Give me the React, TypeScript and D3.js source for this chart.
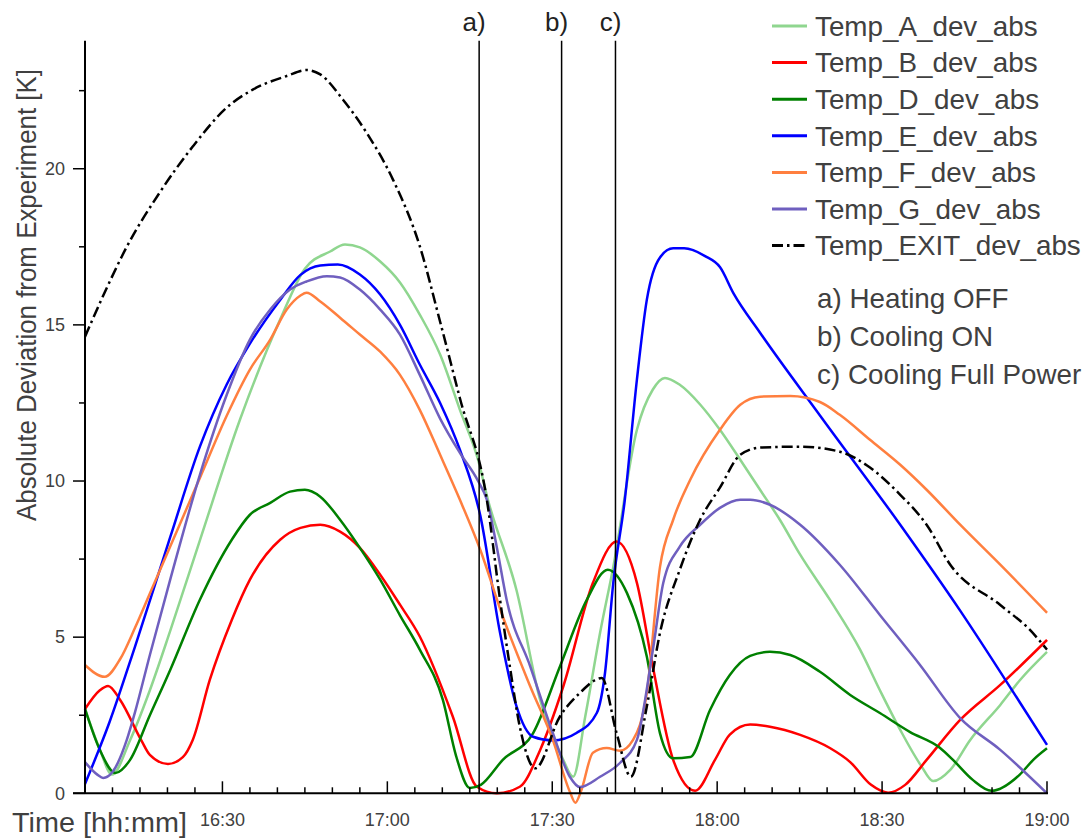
import React, { useEffect, useRef } from "react";
import * as d3 from "d3";

// time values are minutes after 16:00
const tempA = [
  [5, 2.7], [7.7, 1.4], [9.9, 0.6], [13.2, 1.7], [16.8, 3.3], [20.5, 5.2], [25.9, 8.1],
  [33.2, 11.97], [40.5, 15.17], [45, 16.8], [49.6, 17.35], [52.3, 17.57], [55, 17.48],
  [58.7, 17.03], [62.3, 16.36], [65.9, 15.33], [69.6, 14.05], [73.2, 12.28], [76.5, 10.68],
  [78.3, 9.4], [83.5, 6.5], [87.8, 2.99], [92, 1.07], [93.8, 0.53], [96, 2.46], [98.7, 5.14],
  [101.1, 7.25], [105.4, 11.64], [108.3, 12.93], [110.5, 13.3], [113.2, 13.08], [116.9, 12.45],
  [120.5, 11.64], [124.2, 10.68], [127.8, 9.72], [131.4, 8.76], [135.1, 7.64], [140.5, 6.2],
  [146, 4.6], [149.6, 3.3], [153.3, 2.03], [157, 0.91], [159.3, 0.39], [162.4, 0.75],
  [166, 1.7], [171.5, 2.83], [175.1, 3.63], [180, 4.53],
];
const tempB = [
  [5, 2.7], [7.7, 3.3], [9.2, 3.44], [11.4, 2.99], [15.2, 1.71], [16.8, 1.23], [20.1, 0.94],
  [22.8, 1.16], [24.6, 1.71], [27.7, 3.63], [31.7, 5.55], [35, 6.84], [40.5, 8.12], [44.2, 8.5],
  [47.8, 8.6], [51.4, 8.38], [55, 7.86], [58.7, 7.0], [62.3, 6.04], [65.9, 5.02], [71.9, 2.46],
  [76.3, 0.21], [79.9, 0], [84.1, 0.21], [87.8, 1.39], [92, 3.42], [97.4, 6.74], [101.7, 8.06],
  [105.4, 6.74], [108.3, 4.05], [112, 1.07], [116, 0.08], [119.6, 1.07], [122.3, 1.88],
  [126, 2.2], [129.6, 2.13], [135.1, 1.87], [140.5, 1.45], [144.2, 1.0], [148, 0.27],
  [151.1, 0.02], [154.2, 0.27], [158.1, 1.07], [164.2, 2.35], [171.5, 3.47], [180, 4.91],
];
const tempD = [
  [5, 2.7], [7.7, 1.39], [10.5, 0.65], [13.2, 1.07], [16.8, 2.5], [20.5, 3.95], [25.9, 6.2],
  [31.7, 8.12], [35, 8.92], [38.7, 9.3], [42.3, 9.66], [45, 9.72], [47.8, 9.5], [51.4, 8.76],
  [55, 7.86], [58.7, 6.84], [62.3, 5.7], [65.9, 4.6], [70.1, 2.99], [72.5, 1.2], [75, 0.17],
  [77, 0.27], [81, 1.07], [86.5, 1.92], [91.4, 4.06], [96.3, 6.2], [100.1, 7.16], [103.6, 6.41],
  [107.2, 4.38], [109.6, 1.92], [112, 1.12], [115.1, 1.16], [118.7, 2.67], [122.3, 3.79],
  [126, 4.4], [129.6, 4.53], [133.3, 4.43], [138.7, 3.89], [144.2, 3.15], [149.6, 2.57],
  [155.1, 1.96], [160.5, 1.46], [162.9, 1.07], [166.5, 0.43], [169.9, 0.08], [175, 0.59],
  [177.5, 1.07], [180, 1.44],
];
const tempE = [
  [5, 0.3], [9.5, 2.3], [14.1, 4.7], [20.5, 8.2], [25.9, 11.1], [30.8, 13.1], [35, 14.4],
  [40.5, 15.8], [44.2, 16.6], [47.8, 16.9], [51, 16.93], [55, 16.61], [58.7, 15.97],
  [62.3, 15.0], [65.9, 13.73], [69.6, 12.5], [73.2, 11.0], [76.9, 8.9], [80.5, 5.14],
  [83.5, 2.78], [86.5, 1.81], [90.1, 1.69], [94.4, 1.93], [98.1, 2.57], [99.6, 3.86],
  [101.1, 6.74], [103.2, 9.4], [105.4, 13.25], [107.2, 15.8], [109.6, 17.16], [112, 17.45],
  [114, 17.45], [117.8, 17.2], [120.5, 16.85], [123, 16.0], [127.8, 14.75], [138.7, 12.1],
  [153.3, 8.6], [164.2, 5.85], [175.1, 2.9], [180, 1.55],
];
const tempF = [
  [5, 4.11], [8.6, 3.73], [11.4, 4.3], [14.1, 5.3], [16.8, 6.4], [20.5, 7.9], [25.9, 10.1],
  [30.8, 12.1], [35, 13.57], [38.7, 14.53], [41.7, 15.49], [44.2, 15.94], [45.3, 16.03],
  [47.8, 15.75], [51.4, 15.23], [55, 14.69], [58.7, 14.14], [62.3, 13.4], [65.9, 12.28],
  [69.6, 10.84], [73.2, 9.4], [76.9, 7.8], [81, 5.66], [86, 3.42], [90.1, 1.71], [93.2, 0.05],
  [94.2, -0.3], [95.2, 0.05], [97.4, 1.3], [99.9, 1.45], [102.3, 1.36], [104.7, 1.71], [107.2, 3.21],
  [109.6, 7.25], [112, 8.76], [115.1, 10.04], [120.5, 11.64], [124.2, 12.44], [127.8, 12.7],
  [133.3, 12.72], [138.7, 12.53], [142.3, 12.12], [147.8, 11.32], [153.3, 10.52], [158.1, 9.72],
  [164.2, 8.6], [171.5, 7.32], [180, 5.78],
];
const tempG = [
  [5, 1.0], [7.3, 0.59], [8.3, 0.49], [10, 0.68], [12.6, 1.71], [14.1, 2.6], [16.8, 4.43],
  [20.5, 6.84], [25.9, 10.2], [30.8, 12.77], [35, 14.53], [38.7, 15.49], [42.3, 16.13],
  [45.3, 16.39], [49, 16.56], [51.4, 16.52], [55, 16.13], [58.7, 15.49], [62.3, 14.69],
  [65.9, 13.4], [69.6, 12.0], [73.2, 10.9], [76.5, 10.0], [78.1, 9.4], [80, 7.8], [81.7, 6.2],
  [86, 4.06], [90.1, 1.93], [93.2, 0.53], [95, 0.2], [98.7, 0.53], [102.3, 0.97], [105.4, 1.71],
  [108.3, 4.59], [110.2, 6.74], [113.2, 7.9], [116.9, 8.6], [120.5, 9.14], [124.2, 9.4],
  [126, 9.4], [129.6, 9.24], [135.1, 8.6], [142.3, 7.32], [149.6, 5.71], [156.9, 4.11],
  [164.2, 2.41], [171.5, 1.39], [180, 0],
];
const tempExit = [
  [5, 14.62], [9, 16.2], [12.6, 17.5], [18.6, 19.24], [24.6, 20.71], [30.8, 21.96], [35.6, 22.54],
  [41.7, 22.97], [45.3, 23.16], [47.8, 23.02], [51.9, 22.22], [56.2, 21.16], [61, 19.66],
  [65.9, 17.52], [69.6, 15.1], [73.2, 12.65], [78.1, 9.4], [80.5, 6.2], [82.3, 4.05],
  [84.1, 2.13], [86.9, 0.8], [91.4, 2.46], [95, 3.21], [99, 3.69], [101.7, 1.93], [104.3, 0.53],
  [107.2, 2.78], [109.6, 5.14], [113.2, 7.16], [116.9, 8.76], [120.5, 9.79], [124.2, 10.84],
  [127.8, 11.07], [135.1, 11.1], [142.3, 10.94], [147.8, 10.43], [153.3, 9.56], [158.1, 8.6],
  [162.4, 7.32], [171.5, 6.03], [176.9, 5.23], [180, 4.6],
];

const seriesNames = [
  "Temp_A_dev_abs", "Temp_B_dev_abs", "Temp_D_dev_abs", "Temp_E_dev_abs",
  "Temp_F_dev_abs", "Temp_G_dev_abs", "Temp_EXIT_dev_abs",
];
const seriesData = [tempA, tempB, tempD, tempE, tempF, tempG, tempExit];
const seriesColors = ["#8fd68f", "#ff0000", "#008000", "#0000ff", "#ff7f3f", "#6f5fbf", "#000000"];

const eventTimes = [76.7, 91.7, 101.5];
const eventLabels = ["a)", "b)", "c)"];
const eventNotes = ["a) Heating OFF", "b) Cooling ON", "c) Cooling Full Power"];

const xTickLabels = ["16:30", "17:00", "17:30", "18:00", "18:30", "19:00"];
const yMajorTicks = [0, 5, 10, 15, 20];
const yMinorTicks = [2.5, 7.5, 12.5, 17.5, 22.5];

const toMinutes = (s) => {
  const [h, m] = s.split(":").map(Number);
  return (h - 16) * 60 + m;
};

const App = () => {
  const ref = useRef(null);

  useEffect(() => {
    const svg = d3.select(ref.current);
    svg.selectAll("*").remove();

    const x = d3.scaleLinear().domain([5, 180]).range([85, 1047]);
    const y = d3.scaleLinear().domain([0, 24.1]).range([793.3, 40.7]);
    const font = "'Liberation Sans', Arial, sans-serif";
    const textCol = "#404040";

    // series
    const line = d3
      .line()
      .x((d) => x(d[0]))
      .y((d) => y(d[1]))
      .curve(d3.curveMonotoneX);

    seriesData.forEach((data, i) => {
      const p = svg
        .append("path")
        .attr("d", line(data))
        .attr("fill", "none")
        .attr("stroke", seriesColors[i])
        .attr("stroke-width", 2.5)
        .attr("stroke-linejoin", "round");
      if (i === 6) p.attr("stroke-dasharray", "11,4,2.5,4");
    });

    // event lines
    eventTimes.forEach((t, i) => {
      svg
        .append("line")
        .attr("x1", x(t))
        .attr("x2", x(t))
        .attr("y1", y(24.1))
        .attr("y2", y(0))
        .attr("stroke", "#000")
        .attr("stroke-width", 1.5);
      svg
        .append("text")
        .attr("x", x(t) - 5)
        .attr("y", 31)
        .attr("text-anchor", "middle")
        .style("font-family", font)
        .style("font-size", "26px")
        .style("fill", "#222")
        .text(eventLabels[i]);
    });

    // axes
    const axisG = svg.append("g").attr("stroke", "#000");
    axisG
      .append("line")
      .attr("x1", x(5))
      .attr("x2", x(5))
      .attr("y1", y(24.1))
      .attr("y2", y(0))
      .attr("stroke-width", 2);
    axisG
      .append("line")
      .attr("x1", x(5) - 12)
      .attr("x2", x(180) + 1)
      .attr("y1", y(0))
      .attr("y2", y(0))
      .attr("stroke-width", 2);

    d3.range(10, 181, 5).forEach((m) => {
      const major = m % 30 === 0;
      axisG
        .append("line")
        .attr("x1", x(m))
        .attr("x2", x(m))
        .attr("y1", y(0))
        .attr("y2", y(0) - (major ? 12 : 6))
        .attr("stroke-width", 1.5);
    });

    xTickLabels.forEach((lab) => {
      svg
        .append("text")
        .attr("x", x(toMinutes(lab)))
        .attr("y", 826)
        .attr("text-anchor", "middle")
        .style("font-family", font)
        .style("font-size", "18px")
        .style("fill", textCol)
        .text(lab);
    });

    yMajorTicks.concat(yMinorTicks).forEach((v) => {
      const major = yMajorTicks.includes(v);
      axisG
        .append("line")
        .attr("x1", x(5))
        .attr("x2", x(5) - (major ? 12 : 6))
        .attr("y1", y(v))
        .attr("y2", y(v))
        .attr("stroke-width", 1.5);
    });

    yMajorTicks.forEach((v) => {
      svg
        .append("text")
        .attr("x", 65)
        .attr("y", y(v))
        .attr("dy", "0.35em")
        .attr("text-anchor", "end")
        .style("font-family", font)
        .style("font-size", "18px")
        .style("fill", textCol)
        .text(v);
    });

    // axis titles
    svg
      .append("text")
      .attr("x", 12)
      .attr("y", 832)
      .attr("textLength", 175)
      .attr("lengthAdjust", "spacingAndGlyphs")
      .style("font-family", font)
      .style("font-size", "27px")
      .style("fill", textCol)
      .text("Time [hh:mm]");

    svg
      .append("text")
      .attr("transform", "translate(36, 521) rotate(-90)")
      .attr("textLength", 452)
      .attr("lengthAdjust", "spacingAndGlyphs")
      .style("font-family", font)
      .style("font-size", "27px")
      .style("fill", textCol)
      .text("Absolute Deviation from Experiment [K]");

    // legend
    seriesNames.forEach((name, i) => {
      const ly = 26 + i * 36.6;
      const l = svg
        .append("line")
        .attr("x1", 772)
        .attr("x2", 807)
        .attr("y1", ly)
        .attr("y2", ly)
        .attr("stroke", seriesColors[i])
        .attr("stroke-width", 3);
      if (i === 6) l.attr("stroke-dasharray", "11,4,2.5,4");
      svg
        .append("text")
        .attr("x", 815)
        .attr("y", ly)
        .attr("dy", "0.35em")
        .style("font-family", font)
        .style("font-size", "27.8px")
        .style("fill", textCol)
        .text(name);
    });

    eventNotes.forEach((note, i) => {
      svg
        .append("text")
        .attr("x", 817)
        .attr("y", 298 + i * 38)
        .attr("dy", "0.35em")
        .style("font-family", font)
        .style("font-size", "27.8px")
        .style("fill", textCol)
        .text(note);
    });

    return () => {
      svg.selectAll("*").remove();
    };
  }, []);

  return (
    <svg
      ref={ref}
      width={1088}
      height={839}
      style={{ position: "absolute", left: 0, top: 0, background: "#fff" }}
    ></svg>
  );
};

export default App;
